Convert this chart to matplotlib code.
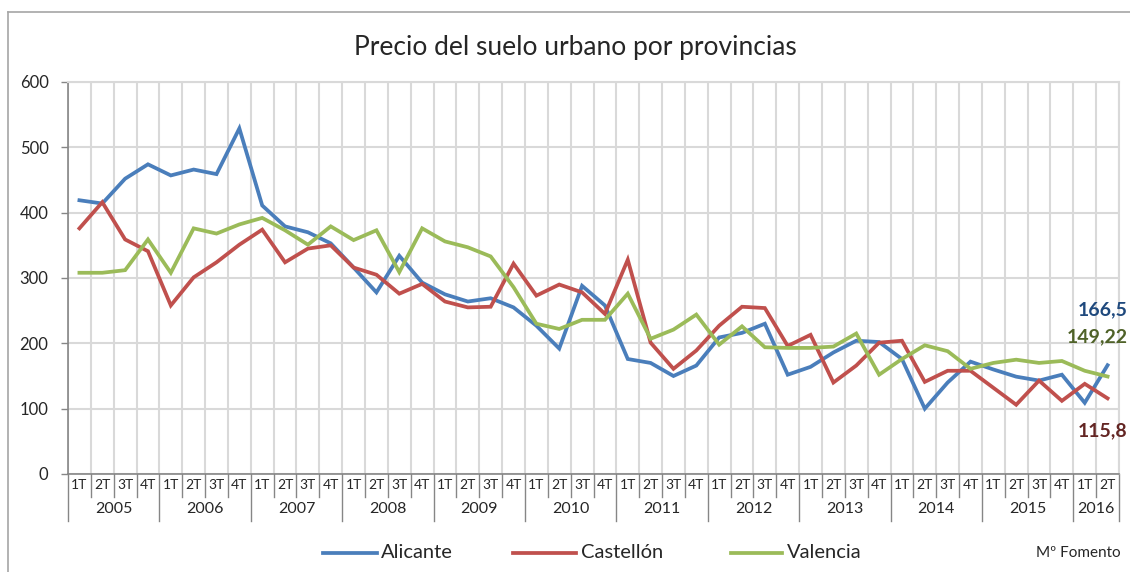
import numpy as np
import matplotlib
matplotlib.use("Agg")
import matplotlib.pyplot as plt
from matplotlib.lines import Line2D

plt.rcParams['font.family'] = ['Lato', 'DejaVu Sans']

years = ['2005', '2006', '2007', '2008', '2009', '2010', '2011',
         '2012', '2013', '2014', '2015', '2016']
quarters = ['1T', '2T', '3T', '4T']
n_quarters_per_year = [4, 4, 4, 4, 4, 4, 4, 4, 4, 4, 4, 2]

alicante = [419, 414, 452, 474, 457, 466, 459, 529, 411, 379, 370, 353,
            316, 278, 334, 293, 275, 264, 269, 255, 227, 192, 288, 258,
            176, 170, 150, 166, 209, 216, 230, 152, 164, 186, 204, 202,
            176, 100, 140, 172, 160, 149, 143, 152, 109, 166.5]
castellon = [376, 416, 359, 341, 258, 301, 324, 351, 374, 324, 345, 350,
             316, 305, 276, 291, 264, 255, 256, 322, 273, 290, 278, 245,
             328, 201, 161, 189, 227, 256, 254, 196, 213, 140, 166, 201,
             204, 141, 158, 158, 132, 106, 143, 112, 138, 115.8]
valencia = [308, 308, 312, 359, 308, 376, 368, 382, 392, 373, 351, 379,
            358, 373, 309, 376, 356, 347, 333, 286, 230, 222, 236, 236,
            276, 207, 221, 244, 198, 226, 194, 193, 193, 195, 215, 152,
            176, 197, 188, 161, 170, 175, 170, 173, 158, 149.22]

series_names = ['Alicante', 'Castellón', 'Valencia']
colors = ['#4A7EBB', '#C0504D', '#9BBB59']
label_colors = ['#1F497D', '#632523', '#4F6228']
end_labels = ['166,5', '115,8', '149,22']

W, H = 1130, 572
fig = plt.figure(figsize=(W / 100, H / 100), dpi=100)

# Outer chart border (cut by the image at right/bottom)
fig.add_artist(Line2D([8 / W, 8 / W], [0, 1 - 12 / H], transform=fig.transFigure,
                      color='#A6A6A6', lw=1.2))
fig.add_artist(Line2D([8 / W, 1], [1 - 12 / H, 1 - 12 / H], transform=fig.transFigure,
                      color='#A6A6A6', lw=1.2))

x0, x1, y0, y1 = 68, 1119, 474, 82
ax = fig.add_axes([x0 / W, 1 - y0 / H, (x1 - x0) / W, (y0 - y1) / H])

n = len(alicante)
x = np.arange(n)
for vals, c, name in zip([alicante, castellon, valencia], colors, series_names):
    ax.plot(x, vals, color=c, lw=2.7, label=name, solid_joinstyle='miter', zorder=3)

ax.set_xlim(-0.5, n - 0.5)
ax.set_ylim(0, 600)
ax.set_yticks(np.arange(0, 601, 100))
ax.tick_params(axis='y', length=5, width=1, color='#868686', labelsize=12,
               labelcolor='#262626', pad=9)
ax.set_xticks(np.arange(-0.5, n, 1.0))
ax.set_xticklabels([])
ax.tick_params(axis='x', length=0)
ax.grid(True, color='#D9D9D9', lw=1.5, zorder=0)
ax.set_axisbelow(True)
for s in ['top', 'right']:
    ax.spines[s].set_color('#D9D9D9')
    ax.spines[s].set_linewidth(1.5)
ax.spines['left'].set_color('#868686')
ax.spines['bottom'].set_color('#868686')
ax.spines['left'].set_linewidth(1.2)
ax.spines['bottom'].set_linewidth(1.2)

# Multi-level category axis
trans = ax.get_xaxis_transform()
axh = y0 - y1
q_sep = -23 / axh
y_sep = -47 / axh
pos = 0
for yr, nq in zip(years, n_quarters_per_year):
    for q in range(nq):
        ax.text(pos + q, -11 / axh, quarters[q], transform=trans, ha='center',
                va='center', fontsize=10, color='#262626')
        if q > 0:
            ax.add_line(Line2D([pos + q - 0.5] * 2, [0, q_sep], transform=trans,
                               color='#868686', lw=1, clip_on=False))
    ax.text(pos + (nq - 1) / 2, -35 / axh, yr, transform=trans, ha='center',
            va='center', fontsize=11.5, color='#262626')
    ax.add_line(Line2D([pos - 0.5] * 2, [0, y_sep], transform=trans,
                       color='#868686', lw=1, clip_on=False))
    pos += nq
ax.add_line(Line2D([pos - 0.5] * 2, [0, y_sep], transform=trans,
                   color='#868686', lw=1, clip_on=False))

# End-point data labels (right-aligned so they stay inside the image)
last_vals = [alicante[-1], castellon[-1], valencia[-1]]
offsets = [(20, 55), (20, -32), (20, 40)]
for v, lab, c, off in zip(last_vals, end_labels, label_colors, offsets):
    ax.annotate(lab, xy=(n - 1, v), xytext=off, textcoords='offset pixels',
                ha='right', va='center', fontsize=14, fontweight='bold',
                color=c, annotation_clip=False)

# Title
fig.text(575 / W, 1 - 48 / H, 'Precio del suelo urbano por provincias',
         ha='center', va='center', fontsize=19, color='#262626')

# Legend
leg_y = 1 - 553 / H
legend_items = [(323, 377, 381), (513, 576, 581), (731, 782, 787)]
for (lx0, lx1, tx), c, name in zip(legend_items, colors, series_names):
    fig.add_artist(Line2D([lx0 / W, lx1 / W], [leg_y, leg_y], transform=fig.transFigure,
                          color=c, lw=2.7))
    fig.text(tx / W, leg_y, name, ha='left', va='center', fontsize=14.5,
             color='#262626')
fig.text(1121 / W, leg_y, 'Mº Fomento', ha='right', va='center', fontsize=11,
         color='#262626')

fig.savefig('out.png', dpi=100)
